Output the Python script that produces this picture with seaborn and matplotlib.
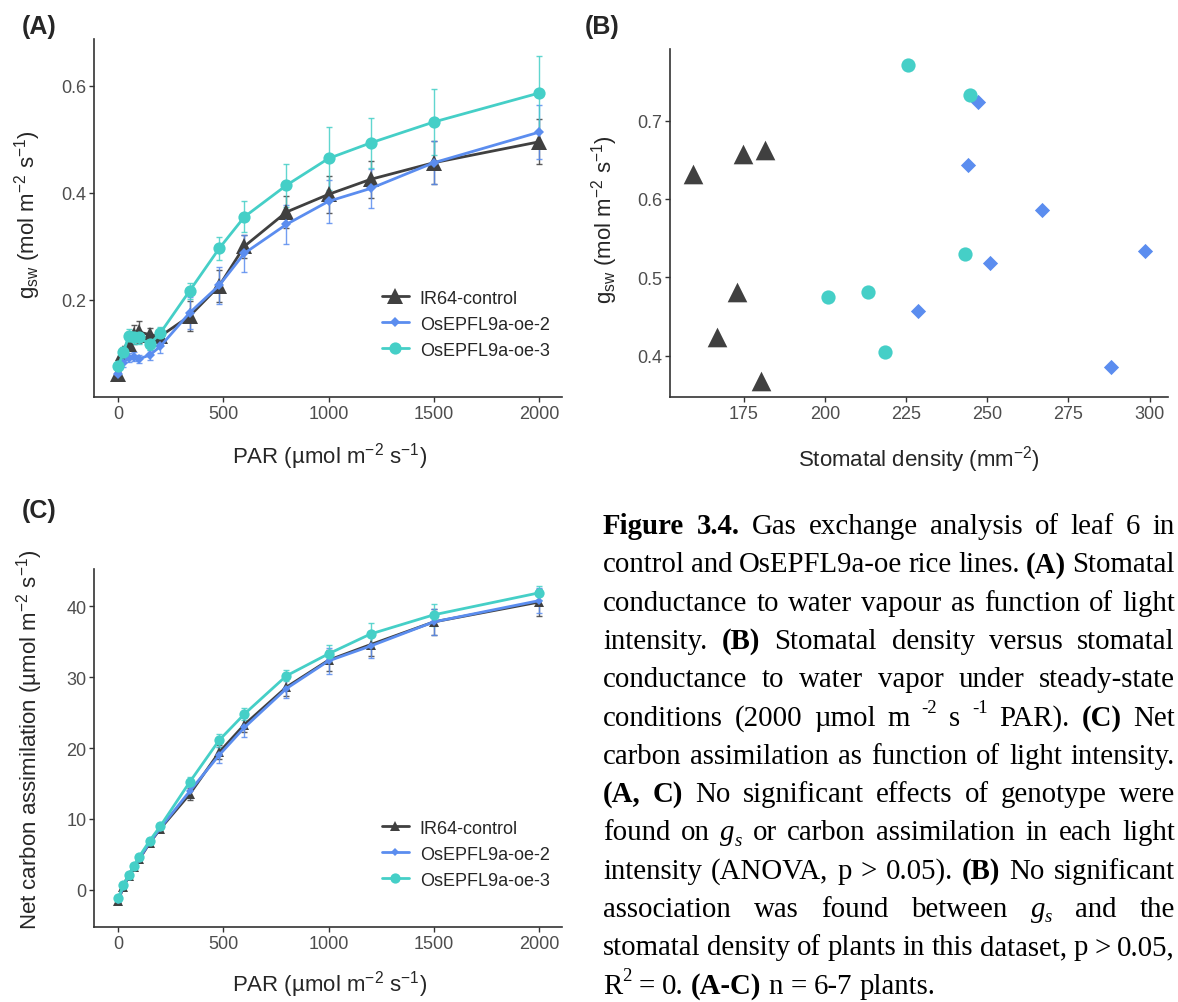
import matplotlib
matplotlib.use("Agg")
import matplotlib.pyplot as plt
import seaborn as sns
import pandas as pd

W, H, DPI = 1178, 1003, 100

genotypes = ["IR64-control", "OsEPFL9a-oe-2", "OsEPFL9a-oe-3"]
colors = ["#404040", "#5b8def", "#45cfc7"]
markers = ["^", "D", "o"]

# light levels (PAR, umol m-2 s-1)
par = [0, 25, 50, 75, 100, 150, 200, 340, 480, 600, 800, 1000, 1200, 1500, 2000]

# (A) stomatal conductance, mean and error
gsw_control = [0.062, 0.100, 0.118, 0.135, 0.140, 0.135, 0.132, 0.170, 0.226, 0.300, 0.364, 0.397, 0.425, 0.456, 0.495]
gsw_oe2 = [0.061, 0.083, 0.092, 0.094, 0.090, 0.097, 0.113, 0.176, 0.227, 0.287, 0.341, 0.384, 0.408, 0.456, 0.513]
gsw_oe3 = [0.077, 0.102, 0.133, 0.130, 0.130, 0.117, 0.138, 0.217, 0.296, 0.355, 0.414, 0.464, 0.493, 0.532, 0.586]
gsw_control_err = [0.006, 0.010, 0.012, 0.018, 0.020, 0.012, 0.012, 0.028, 0.030, 0.022, 0.030, 0.034, 0.034, 0.040, 0.042]
gsw_oe2_err = [0.005, 0.008, 0.008, 0.008, 0.008, 0.010, 0.012, 0.030, 0.034, 0.035, 0.037, 0.040, 0.036, 0.040, 0.050]
gsw_oe3_err = [0.008, 0.010, 0.012, 0.012, 0.012, 0.010, 0.012, 0.015, 0.022, 0.029, 0.040, 0.058, 0.047, 0.062, 0.070]

# (B) stomatal density vs gsw, one point per plant
dens_control = [159.2, 174.7, 181.6, 173.0, 166.8, 180.3]
gs_control = [0.632, 0.657, 0.662, 0.481, 0.424, 0.367]
dens_oe2 = [247.2, 244.0, 267.0, 250.8, 228.7, 288.0, 298.7]
gs_oe2 = [0.724, 0.643, 0.586, 0.518, 0.457, 0.385, 0.534]
dens_oe3 = [225.5, 244.7, 243.1, 200.8, 213.1, 218.6]
gs_oe3 = [0.771, 0.733, 0.530, 0.475, 0.481, 0.404]

# (C) net carbon assimilation, mean and error
a_control = [-1.55, 0.4, 1.9, 3.2, 4.3, 6.6, 8.6, 13.5, 19.4, 23.3, 28.6, 32.4, 34.6, 37.8, 40.6]
a_oe2 = [-1.4, 0.5, 2.0, 3.3, 4.4, 6.7, 8.7, 13.9, 19.0, 22.9, 28.4, 32.3, 34.4, 37.8, 40.8]
a_oe3 = [-1.2, 0.66, 2.08, 3.4, 4.67, 6.93, 8.96, 15.2, 21.1, 24.8, 30.2, 33.3, 36.1, 38.8, 41.9]
a_control_err = [0.3, 0.3, 0.3, 0.3, 0.4, 0.4, 0.5, 0.8, 1.0, 1.1, 1.3, 1.5, 1.6, 1.8, 1.9]
a_oe2_err = [0.3, 0.3, 0.3, 0.3, 0.4, 0.4, 0.5, 0.9, 1.1, 1.3, 1.4, 1.8, 1.7, 1.8, 1.8]
a_oe3_err = [0.3, 0.3, 0.3, 0.3, 0.4, 0.4, 0.5, 0.7, 0.9, 0.8, 0.8, 1.2, 1.5, 1.6, 1.0]


def long_frame(series, errs, col):
    rows = []
    for g, vals, es in zip(genotypes, series, errs):
        for p, v, e in zip(par, vals, es):
            rows.append({"PAR": p, col: v, "err": e, "genotype": g})
    return pd.DataFrame(rows)


df_a = long_frame([gsw_control, gsw_oe2, gsw_oe3],
                  [gsw_control_err, gsw_oe2_err, gsw_oe3_err], "gsw")
df_c = long_frame([a_control, a_oe2, a_oe3],
                  [a_control_err, a_oe2_err, a_oe3_err], "A")
df_b = pd.DataFrame({
    "density": dens_control + dens_oe2 + dens_oe3,
    "gsw": gs_control + gs_oe2 + gs_oe3,
    "genotype": [genotypes[0]] * len(dens_control) + [genotypes[1]] * len(dens_oe2)
                + [genotypes[2]] * len(dens_oe3),
})

sns.set_theme(style="ticks")
plt.rcParams["font.family"] = ["Liberation Sans", "DejaVu Sans"]
plt.rcParams["mathtext.fontset"] = "custom"
plt.rcParams["mathtext.rm"] = "Liberation Sans"
plt.rcParams["mathtext.it"] = "Liberation Sans:italic"
plt.rcParams["mathtext.default"] = "regular"

TICK_PT, TITLE_PT, LEG_PT = 13, 16, 13
GREY = "#4d4d4d"

fig = plt.figure(figsize=(W / DPI, H / DPI), dpi=DPI)


def px_axes(l, t, r, b):
    return fig.add_axes([l / W, 1 - b / H, (r - l) / W, (b - t) / H])


def style_axes(ax):
    sns.despine(ax=ax)
    for s in ("left", "bottom"):
        ax.spines[s].set_color("#333333")
        ax.spines[s].set_linewidth(1.2)
    ax.tick_params(direction="out", length=3.5, width=1, color="#333333",
                   labelsize=TICK_PT, labelcolor=GREY, pad=2)
    ax.set_xlabel("")
    ax.set_ylabel("")


def light_panel(ax, df, col, msize, lw):
    for g, c, m in zip(genotypes, colors, markers):
        d = df[df.genotype == g]
        ax.errorbar(d.PAR, d[col], yerr=d.err, fmt="none", ecolor=c, elinewidth=1,
                    capsize=2.5, capthick=1, alpha=0.85, zorder=2)
        sns.lineplot(data=d, x="PAR", y=col, color=c, marker=m, markersize=msize[g],
                     markeredgewidth=0, linewidth=lw, errorbar=None, label=g,
                     ax=ax, zorder=3, legend=False)
    handles = [h for h in ax.get_lines() if h.get_label() in genotypes]
    ax.legend(handles=handles, labels=genotypes, loc="upper left",
              bbox_to_anchor=(0.615, 0.30), frameon=False, fontsize=LEG_PT,
              handlelength=1.5, handletextpad=0.6, labelspacing=0.5,
              borderpad=0, borderaxespad=0)
    ax.set_xticks([0, 500, 1000, 1500, 2000])
    ax.set_xlim(-115, 2110)
    style_axes(ax)


unit = r" m$^{-2}$ s$^{-1}$)"

# (A)
axA = px_axes(94, 40, 562, 398)
light_panel(axA, df_a, "gsw", {"IR64-control": 11, "OsEPFL9a-oe-2": 5.2, "OsEPFL9a-oe-3": 8.8}, 2)
axA.set_ylim(0.0187, 0.687)
axA.set_yticks([0.2, 0.4, 0.6])

# (B)
axB = px_axes(670, 50, 1168, 398)
sizes_b = {"IR64-control": 200, "OsEPFL9a-oe-2": 60, "OsEPFL9a-oe-3": 105}
for g, c, m in zip(genotypes, colors, markers):
    sns.scatterplot(data=df_b[df_b.genotype == g], x="density", y="gsw", color=c,
                    marker=m, s=sizes_b[g], linewidth=0, ax=axB, legend=False, zorder=3)
axB.set_xlim(152.2, 305.7)
axB.set_ylim(0.347, 0.7915)
axB.set_xticks([175, 200, 225, 250, 275, 300])
axB.set_yticks([0.4, 0.5, 0.6, 0.7])
style_axes(axB)

# (C)
axC = px_axes(94, 570, 562, 928)
light_panel(axC, df_c, "A", {"IR64-control": 6.5, "OsEPFL9a-oe-2": 4.0, "OsEPFL9a-oe-3": 7.4}, 2)
axC.set_ylim(-5.26, 45.27)
axC.set_yticks([0, 10, 20, 30, 40])


def ftext(x, y, s, **kw):
    return fig.text(x / W, 1 - y / H, s, **kw)


# axis titles
ftext(330, 457, "PAR (µmol" + unit, ha="center", va="center", fontsize=TITLE_PT)
ftext(330, 985, "PAR (µmol" + unit, ha="center", va="center", fontsize=TITLE_PT)
ftext(919, 460, r"Stomatal density (mm$^{-2}$)", ha="center", va="center", fontsize=TITLE_PT)
ftext(28, 215, r"g$_{sw}$ (mol" + unit, ha="center", va="center", rotation=90, fontsize=TITLE_PT)
ftext(605, 220, r"g$_{sw}$ (mol" + unit, ha="center", va="center", rotation=90, fontsize=TITLE_PT)
ftext(30, 740, "Net carbon assimilation (µmol" + unit, ha="center", va="center",
      rotation=90, fontsize=TITLE_PT)

# panel tags
for tag, x, y in [("(A)", 22, 27), ("(B)", 585, 27), ("(C)", 22, 511)]:
    ftext(x, y, tag, ha="left", va="center", fontsize=18, fontweight="bold")

# caption, justified by hand
CAP_FONT = "Liberation Serif"
CAP_PT = 20.8
caption = [
    [("Figure 3.4.", "b"), (" Gas exchange analysis of leaf 6 in", "n")],
    [("control and OsEPFL9a-oe rice lines. ", "n"), ("(A)", "b"), (" Stomatal", "n")],
    [("conductance to water vapour as function of light", "n")],
    [("intensity. ", "n"), ("(B)", "b"), (" Stomatal density versus stomatal", "n")],
    [("conductance to water vapor under steady-state", "n")],
    [("conditions (2000 µmol m ", "n"), ("-2", "sup"), (" s ", "n"), ("-1", "sup"),
     (" PAR). ", "n"), ("(C)", "b"), (" Net", "n")],
    [("carbon assimilation as function of light intensity.", "n")],
    [("(A, C)", "b"), (" No significant effects of genotype were", "n")],
    [("found on ", "n"), ("g", "it"), ("s", "sub"), (" or carbon assimilation in each light", "n")],
    [("intensity (ANOVA, p > 0.05). ", "n"), ("(B)", "b"), (" No significant", "n")],
    [("association was found between ", "n"), ("g", "it"), ("s", "sub"), (" and the", "n")],
    [("stomatal density of plants in this dataset, p > 0.05,", "n")],
    [("R", "n"), ("2", "sup"), (" = 0. ", "n"), ("(A-C)", "b"), (" n = 6-7 plants.", "n")],
]


def piece_props(st):
    size, rise, weight, fstyle = CAP_PT, 0.0, "normal", "normal"
    if st == "b":
        weight = "bold"
    elif st == "it":
        fstyle = "italic"
    elif st == "sub":
        size, rise, fstyle = CAP_PT * 0.65, -0.18, "italic"
    elif st == "sup":
        size, rise = CAP_PT * 0.65, 0.42
    return size, rise * CAP_PT * DPI / 72, weight, fstyle


def split_words(segs):
    words, new_word = [], True
    for text, st in segs:
        for k, p in enumerate(text.split(" ")):
            if k > 0:
                new_word = True
            if p == "":
                continue
            if new_word or not words:
                words.append([(p, st)])
            else:
                words[-1].append((p, st))
            new_word = False
    return words


renderer = fig.canvas.get_renderer()
x0, x1, base0, step = 603, 1175, 534, 38.3
space = 0.25 * CAP_PT * DPI / 72
for i, segs in enumerate(caption):
    words = split_words(segs)
    measured = []
    for word in words:
        parts = []
        for t, st in word:
            size, rise, weight, fstyle = piece_props(st)
            tt = fig.text(0, 0, t, fontsize=size, family=CAP_FONT, weight=weight, style=fstyle)
            parts.append((t, size, rise, weight, fstyle, tt.get_window_extent(renderer).width))
            tt.remove()
        measured.append(parts)
    total = sum(p[5] for parts in measured for p in parts)
    last = i == len(caption) - 1
    gap = space if last else (x1 - x0 - total) / (len(measured) - 1)
    x, y = x0, base0 + i * step
    for parts in measured:
        for t, size, rise, weight, fstyle, w in parts:
            ftext(x, y - rise, t, ha="left", va="baseline", fontsize=size,
                  family=CAP_FONT, weight=weight, style=fstyle, color="black")
            x += w
        x += gap

fig.savefig("out.png", dpi=DPI)
